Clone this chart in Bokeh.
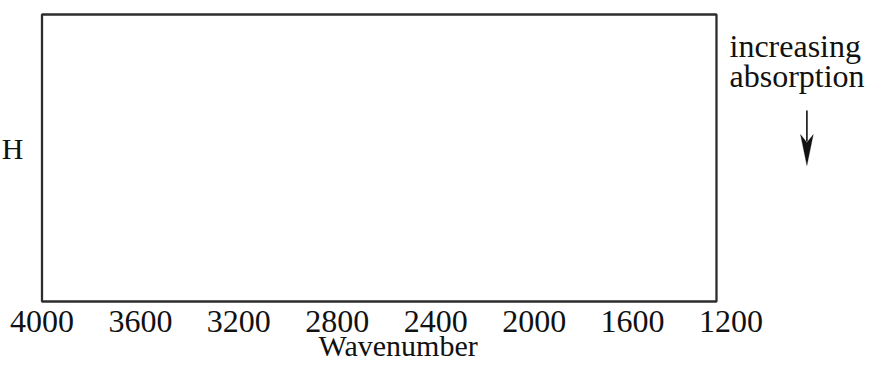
from bokeh.plotting import figure
from bokeh.models import Range1d, Label, Arrow, PolyAnnotation, ColumnDataSource
from bokeh.core.properties import value
from bokeh.embed import file_html
from bokeh.resources import INLINE

# ---- data ----
TICKS = [4000, 3600, 3200, 2800, 2400, 2000, 1600, 1200]
TICK_LABELS = ["4000", "3600", "3200", "2800", "2400", "2000", "1600", "1200"]
SPECTRUM_LEFT = [4000]      # recorded window (wavenumber)
SPECTRUM_RIGHT = [1259]
SIGNAL_BOTTOM = [0]
SIGNAL_TOP = [1]
X_AXIS_TITLE = "Wavenumber"
NOTE_LINES = ["increasing", "absorption"]
BAND_LABEL = "H"

FONT = "Liberation Serif"
INK = "#111111"
FRAME = "#2d2d2d"

W, H = 865, 364
p = figure(width=W, height=H, output_backend="svg", toolbar_location=None,
           x_range=Range1d(4168.65, 653.4), y_range=Range1d(-0.21951, 1.04878),
           x_axis_type=None, y_axis_type=None,
           min_border_left=0, min_border_right=0, min_border_top=0, min_border_bottom=0)
p.outline_line_color = None
p.grid.visible = False
p.background_fill_color = "white"
p.border_fill_color = "white"

# plotting frame of the spectrum
p.quad(left=SPECTRUM_LEFT, right=SPECTRUM_RIGHT, bottom=SIGNAL_BOTTOM, top=SIGNAL_TOP,
       fill_color=None, line_color=FRAME, line_width=2.3)

# wavenumber tick labels
tick_src = ColumnDataSource(dict(x=TICKS, y=[-0.0697] * len(TICKS), t=TICK_LABELS))
p.text(x="x", y="y", text="t", source=tick_src, text_align="center",
       text_baseline="alphabetic", text_font=value(FONT), text_font_size="32px",
       text_color=INK)

common = dict(x_units="screen", y_units="screen", text_font=FONT, text_color=INK,
              text_baseline="alphabetic")

p.add_layout(Label(x=397.6, y=19, text=X_AXIS_TITLE, text_align="center",
                   text_font_size="30px", **common))
p.add_layout(Label(x=729, y=319, text=NOTE_LINES[0], text_align="left",
                   text_font_size="32px", **common))
p.add_layout(Label(x=729, y=289, text=NOTE_LINES[1], text_align="left",
                   text_font_size="32px", **common))
p.add_layout(Label(x=23, y=216, text=BAND_LABEL, text_align="right",
                   text_font_size="30px", **common))

# "increasing absorption" arrow
p.add_layout(Arrow(end=None, x_start=806.4, y_start=H - 110, x_end=806.4, y_end=H - 141,
                   start_units="screen", end_units="screen",
                   line_color=INK, line_width=1.6))
p.add_layout(PolyAnnotation(xs=[800.0, 806.4, 812.8, 806.4],
                            ys=[H - 134, H - 142, H - 134, H - 165],
                            xs_units="screen", ys_units="screen",
                            fill_color=INK, fill_alpha=1.0, line_color=INK, line_width=1))

open("out.html", "w").write(file_html(p, INLINE))
